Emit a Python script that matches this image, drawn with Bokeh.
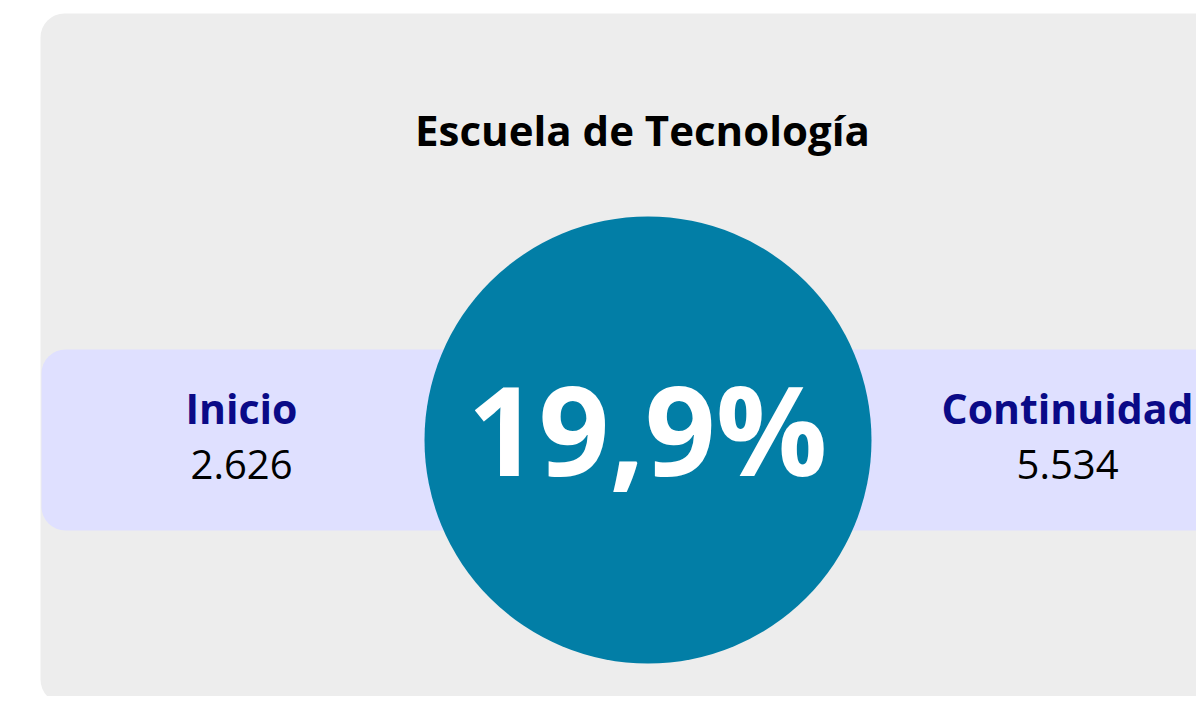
from bokeh.plotting import figure
from bokeh.models import Range1d, ColumnDataSource
from bokeh.core.properties import value
from bokeh.embed import file_html
from bokeh.resources import INLINE

# ---- data ----
title = "Escuela de Tecnología"
labels = ["Inicio", "Continuidad"]
counts = [2626, 5534]
percentage = 19.9

def fmt_int(n):
    return f"{n:,}".replace(",", ".")

def fmt_pct(v):
    return f"{v:.1f}".replace(".", ",") + "%"

FONT = "Open Sans"
W, H = 1196, 696

p = figure(width=W, height=H, output_backend="svg", toolbar_location=None,
           x_range=Range1d(0, W), y_range=Range1d(H, 0),
           min_border=0)
p.axis.visible = False
p.grid.visible = False
p.outline_line_color = None
p.background_fill_color = "white"
p.border_fill_color = "white"

# card
p.quad(left=[40], right=[1260], top=[13], bottom=[703], fill_color="#ededed",
       line_color=None, border_radius=24)
# band
p.quad(left=[41], right=[1260], top=[349], bottom=[530], fill_color="#dfe0ff",
       line_color=None, border_radius=24)
# circle
p.circle(x=[647.5], y=[439.5], radius=223.5, fill_color="#027ea6", line_color=None)

def baseline_shift(size):
    return -0.44 * size

# title
p.text(x=[642], y=[147 + baseline_shift(42)], text=[title], text_font=value(FONT),
       text_font_style="bold", text_font_size="42px", text_color="black",
       text_align="center", text_baseline="alphabetic")

# big percentage
p.text(x=[647], y=[482 + baseline_shift(124)], text=[fmt_pct(percentage)],
       text_font=value(FONT), text_font_style="bold", text_font_size="124px",
       text_color="white", text_align="center", text_baseline="alphabetic")

src = ColumnDataSource(dict(x=[241, 1067], lab=labels,
                            val=[fmt_int(c) for c in counts]))
p.text(x="x", y=426 + baseline_shift(41), text="lab", source=src, text_font=value(FONT),
       text_font_style="bold", text_font_size="41px", text_color="#0a0a87",
       text_align="center", text_baseline="alphabetic")
p.text(x="x", y=482 + baseline_shift(40), text="val", source=src, text_font=value(FONT),
       text_font_size="40px", text_color="black",
       text_align="center", text_baseline="alphabetic")

open("out.html", "w").write(file_html(p, INLINE))
